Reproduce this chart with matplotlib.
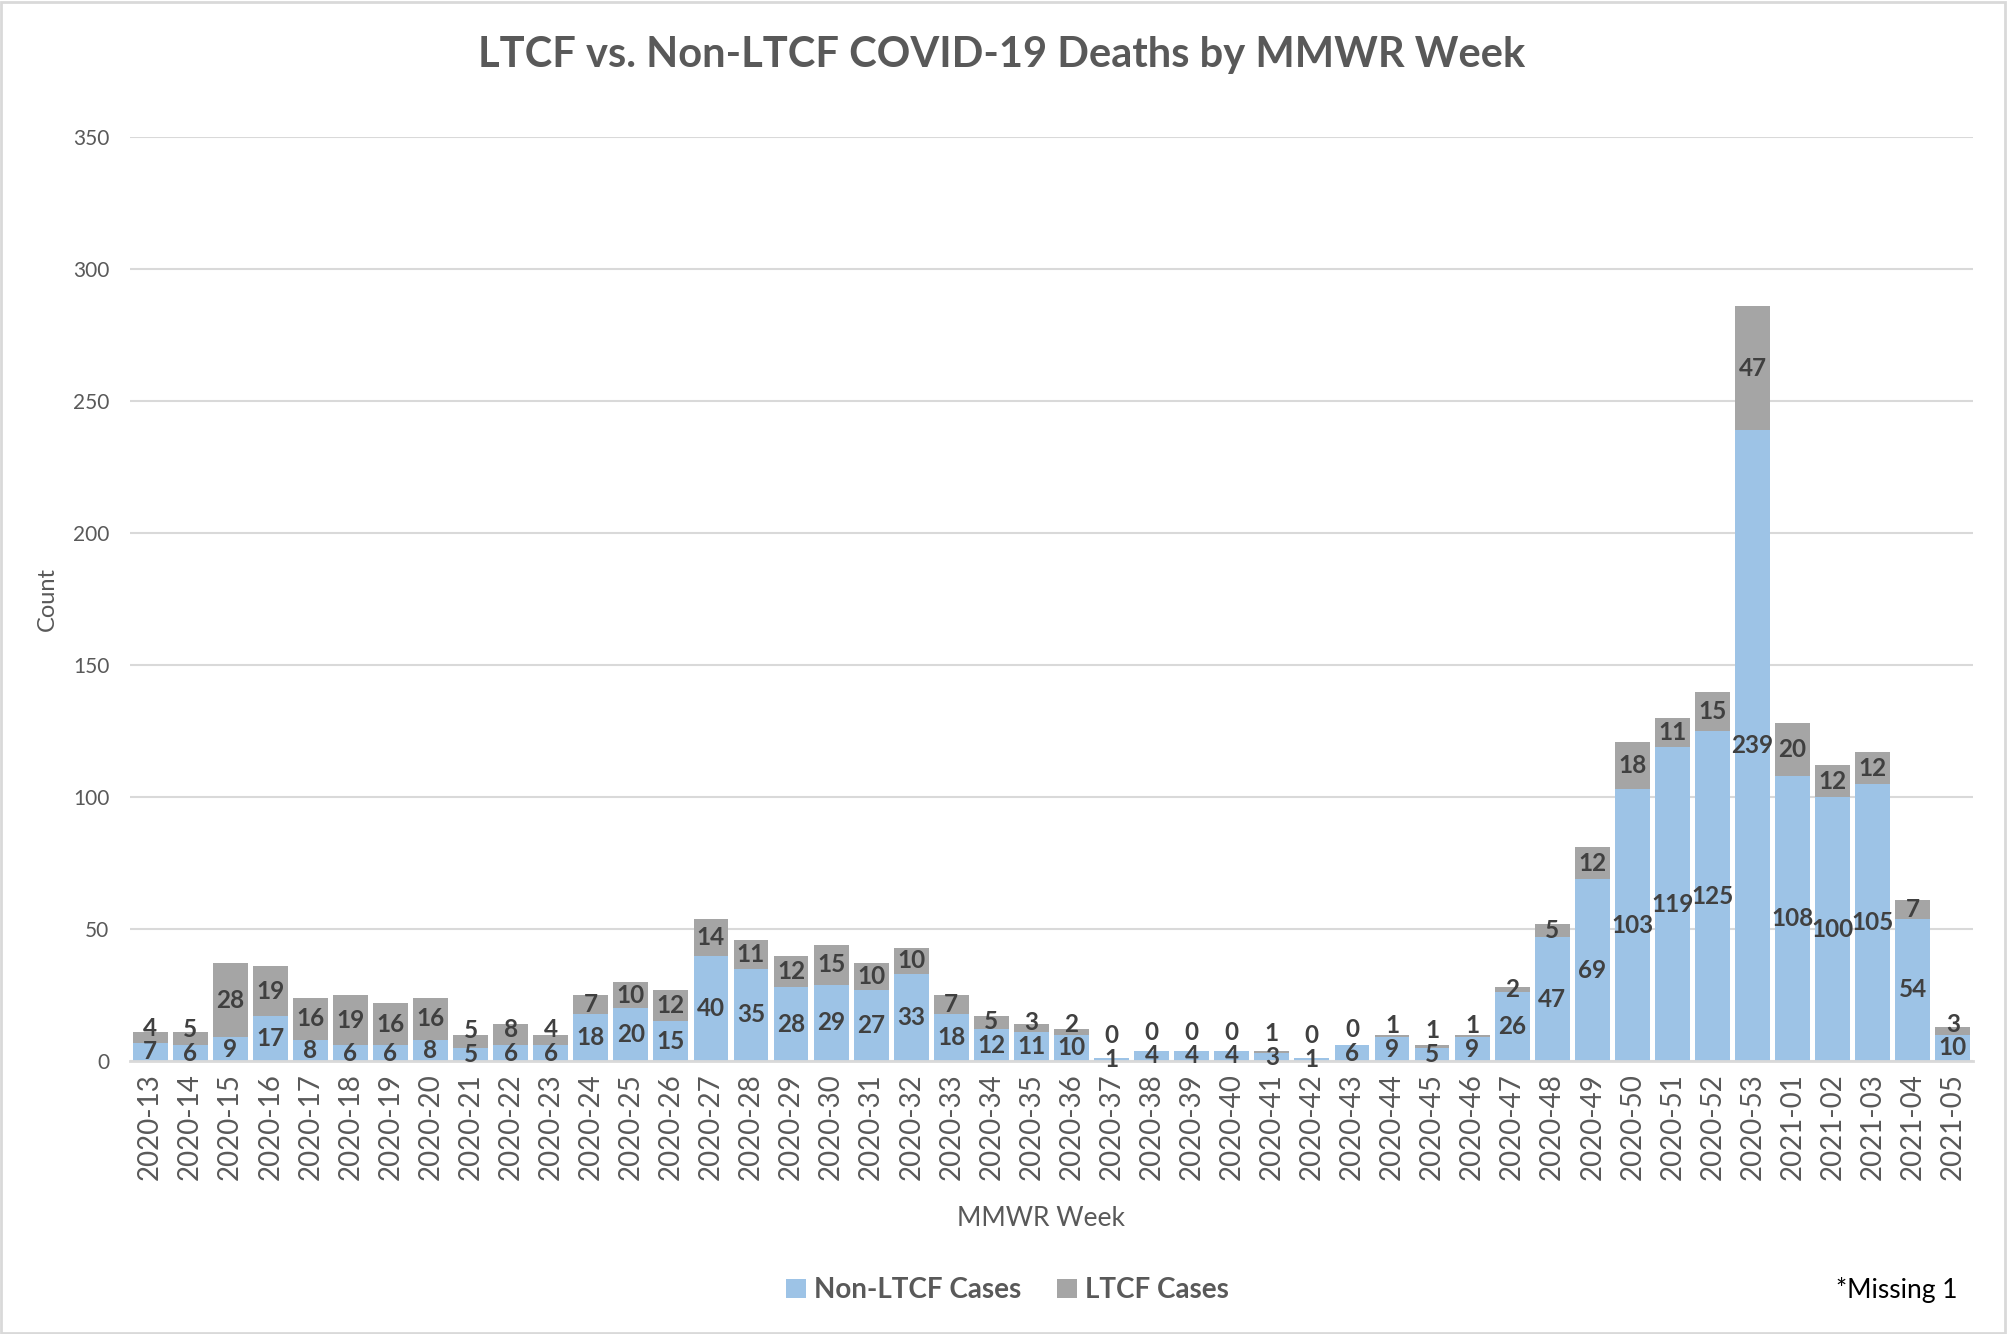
import matplotlib
matplotlib.use("Agg")
import matplotlib.pyplot as plt
from matplotlib.patches import Rectangle, Patch
import numpy as np

plt.rcParams['font.family'] = ['Lato', 'DejaVu Sans']

weeks = ["2020-13", "2020-14", "2020-15", "2020-16", "2020-17", "2020-18", "2020-19", "2020-20",
         "2020-21", "2020-22", "2020-23", "2020-24", "2020-25", "2020-26", "2020-27", "2020-28",
         "2020-29", "2020-30", "2020-31", "2020-32", "2020-33", "2020-34", "2020-35", "2020-36",
         "2020-37", "2020-38", "2020-39", "2020-40", "2020-41", "2020-42", "2020-43", "2020-44",
         "2020-45", "2020-46", "2020-47", "2020-48", "2020-49", "2020-50", "2020-51", "2020-52",
         "2020-53", "2021-01", "2021-02", "2021-03", "2021-04", "2021-05"]
non_ltcf = [7, 6, 9, 17, 8, 6, 6, 8, 5, 6, 6, 18, 20, 15, 40, 35, 28, 29, 27, 33, 18, 12, 11, 10,
            1, 4, 4, 4, 3, 1, 6, 9, 5, 9, 26, 47, 69, 103, 119, 125, 239, 108, 100, 105, 54, 10]
ltcf = [4, 5, 28, 19, 16, 19, 16, 16, 5, 8, 4, 7, 10, 12, 14, 11, 12, 15, 10, 10, 7, 5, 3, 2,
        0, 0, 0, 0, 1, 0, 0, 1, 1, 1, 2, 5, 12, 18, 11, 15, 47, 20, 12, 12, 7, 3]
yticks = [0, 50, 100, 150, 200, 250, 300, 350]

BLUE = "#9DC3E6"
GRAY = "#A5A5A5"
TXT = "#595959"
LBL = "#404040"
GRID = "#D9D9D9"

fig = plt.figure(figsize=(20.07, 13.34), dpi=100)
ax = fig.add_axes([0.0648, 0.2046, 0.9182, 0.6924])

x = np.arange(len(weeks))
w = 0.87
ax.bar(x, non_ltcf, width=w, color=BLUE, zorder=3, label="Non-LTCF Cases")
ax.bar(x, ltcf, width=w, bottom=non_ltcf, color=GRAY, zorder=3, label="LTCF Cases")

# data labels (centered, with simple overlap avoidance)
d = 9.0
for i in range(len(weeks)):
    b = non_ltcf[i]
    g = ltcf[i]
    c1 = b / 2.0
    c2 = b + g / 2.0
    if c2 - c1 < d:
        c2 = c1 + d
    ax.text(x[i], c1, str(b), ha="center", va="center", fontsize=17.5,
            fontweight="bold", color=LBL, zorder=5)
    ax.text(x[i], c2, str(g), ha="center", va="center", fontsize=17.5,
            fontweight="bold", color=LBL, zorder=5)

ax.set_xlim(-0.5, len(weeks) - 0.5)
ax.set_ylim(0, 350)
ax.set_yticks(yticks)
ax.set_yticklabels([str(v) for v in yticks], fontsize=15, color=TXT)
ax.set_xticks(x)
ax.set_xticklabels(weeks, rotation=90, fontsize=20, color=TXT)
ax.tick_params(axis="both", length=0)
ax.tick_params(axis="x", pad=9)
ax.tick_params(axis="y", pad=15)
ax.yaxis.grid(True, color=GRID, linewidth=1.5, zorder=0)
ax.set_axisbelow(True)
for s in ["top", "right", "left"]:
    ax.spines[s].set_visible(False)
ax.spines["bottom"].set_color(GRID)
ax.spines["bottom"].set_linewidth(2)
ax.spines["bottom"].set_zorder(4)

fig.text(0.499, 0.959, "LTCF vs. Non-LTCF COVID-19 Deaths by MMWR Week", ha="center", va="center",
         fontsize=30, fontweight="bold", color=TXT)
fig.text(0.0236, 0.551, "Count", rotation=90, ha="center", va="center", fontsize=17, color=TXT)
fig.text(0.5186, 0.0864, "MMWR Week", ha="center", va="center", fontsize=19, color=TXT)
fig.text(0.945, 0.033, "*Missing 1", ha="center", va="center", fontsize=19, color="black")

handles = [Patch(facecolor=BLUE, label="Non-LTCF Cases"), Patch(facecolor=GRAY, label="LTCF Cases")]
leg = fig.legend(handles=handles, loc="center", bbox_to_anchor=(0.502, 0.033), ncol=2, frameon=False,
                 handlelength=0.7, handleheight=0.7, handletextpad=0.3, columnspacing=1.3,
                 prop={"size": 20, "weight": "bold"})
for t in leg.get_texts():
    t.set_color(TXT)

fig.patches.append(Rectangle((0.0005, 0.001), 0.9985, 0.9975, transform=fig.transFigure,
                             fill=False, edgecolor=GRID, linewidth=2))

fig.savefig("out.png", dpi=100, facecolor="white")
